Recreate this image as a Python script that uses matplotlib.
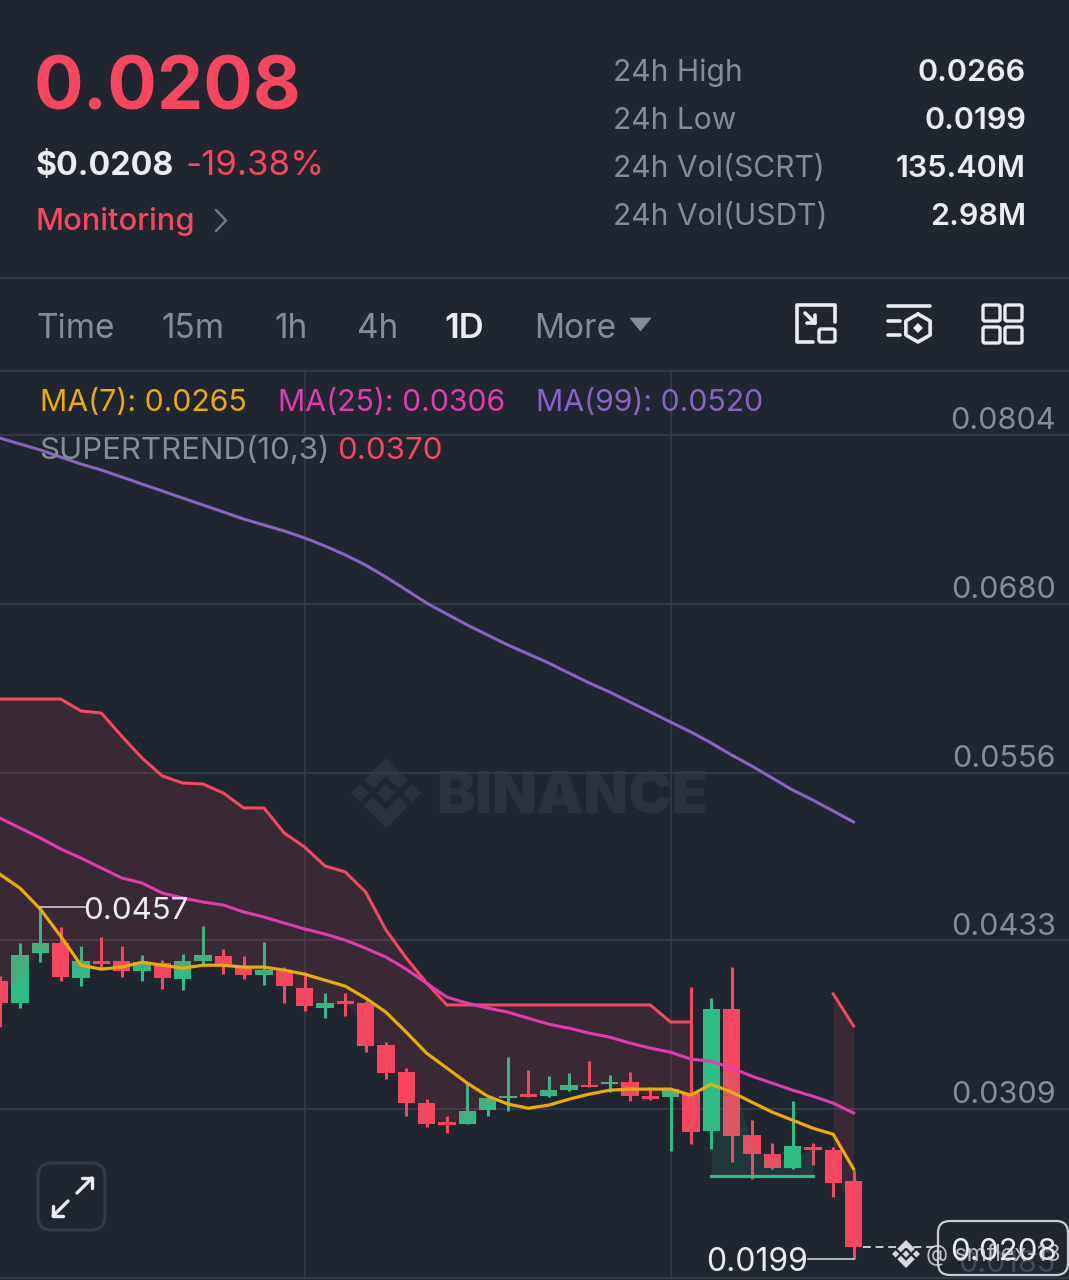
#!/usr/bin/env python3
"""SCRT/USDT daily chart screen: candles, MAs and supertrend."""

import numpy as np
import matplotlib
matplotlib.use('Agg')
import matplotlib.pyplot as plt
from matplotlib.patches import FancyBboxPatch, Polygon

plt.rcParams['font.family'] = ['Inter', 'DejaVu Sans']

BG = '#1f2630'
GRID = '#333a47'
GREY = '#858d9a'
WHITE = '#eaecef'
RED = '#f8465f'
GREEN = '#2ebd85'
GOLD = '#eaac0b'
PINK = '#e53bb0'
PURPLE = '#8b62c6'

# candles, first one sits on the left edge of the screen
opens = [.04031, .03872, .04235, .04306, .04053, .04174, .04174, .04105, .04161, .04044,
         .04174, .0421, .04137, .04073, .04105, .0398, .03833, .03882, .0387, .03559,
         .03361, .03131, .02991, .02981, .03079, .0317, .03197, .03189, .03228, .03267,
         .0327, .03287, .03187, .03179, .03204, .02927, .03828, .02898, .02758, .02658,
         .02808, .02788, .02558]
closes = [.03872, .04222, .04306, .0406, .04174, .04152, .04105, .04168, .04053, .04174,
          .04222, .04137, .04073, .0411, .03992, .03843, .03872, .03862, .03554, .03351,
          .03131, .02979, .02969, .03076, .0317, .03189, .03179, .03228, .03267, .0325,
          .03289, .03189, .03167, .03236, .0292, .03821, .02888, .02758, .02656, .02817,
          .02786, .02548, .0208]
highs = [.04068, .04306, .0457, .04423, .04284, .0435, .04284, .04224, .04183, .04225,
         .04431, .04262, .0421, .0432, .0413, .04093, .03941, .03941, .03882, .03579,
         .03388, .03167, .03035, .03272, .03167, .03469, .0338, .03331, .03351, .03439,
         .03339, .03361, .03248, .03236, .03983, .03902, .0413, .03006, .02837, .03148,
         .02837, .02808, .02643]
lows = [.03693, .03833, .04166, .04031, .0399, .04117, .0406, .04031, .03972, .03961,
        .04154, .04083, .04044, .04002, .0387, .03811, .03759, .03772, .0351, .03309,
        .0304, .02957, .0291, .02981, .0304, .03076, .03179, .03179, .03219, .0325,
        .03212, .03148, .03157, .02778, .0283, .02797, .02697, .02575, .02648, .02648,
        .02678, .02445, .0199]
first_index = -1

ma7 = [.04815, .04712, .04558, .04359, .04146, .04117, .04132, .04168, .04146, .04124,
       .04146, .04146, .04132, .04132, .0411, .0408, .04036, .03992, .03904, .03801,
       .03654, .035, .0339, .0328, .03184, .03126, .03096, .03118, .03162, .03199,
       .03228, .03236, .03236, .03236, .03192, .03272, .03214, .0314, .03067, .03008,
       .02949, .02905, .0265]
ma25 = [.05227, .05154, .0508, .05, .04933, .0486, .04787, .0475, .04676, .0464,
        .0461, .04588, .04537, .045, .04456, .04412, .04375, .0433, .04271, .04205,
        .04117, .04014, .03911, .03867, .03831, .03801, .03757, .03713, .03684, .03647,
        .03618, .03574, .03537, .03507, .03456, .03441, .0339, .03331, .0328, .03228,
        .03184, .03133, .0306]
ma99 = [.08018, .07974, .0793, .07878, .07827, .07783, .07732, .0768, .07629, .07577,
        .07526, .07475, .07423, .07379, .07335, .07284, .07225, .07159, .07085, .06997,
        .06902, .06806, .06725, .06645, .06571, .06498, .06432, .06366, .06292, .06219,
        .06153, .06079, .06006, .05932, .05859, .05778, .0569, .05609, .05521, .05433,
        .05359, .05279, .05198]

# supertrend legs: bearish run, bullish run, bearish run
st_a = [.06101, .06101, .06101, .06101, .06013, .05998, .05829, .05668, .05536, .05484,
        .05477, .05411, .05301, .05301, .05117, .05014, .04875, .04831, .04684, .04405,
        .04199, .04015, .03854, .03854, .03854, .03854, .03854, .03854, .03854, .03854,
        .03854, .03854, .03854, .03729, .03729]
st_b = [.02598, .02598, .02598, .02598, .02598, .02598]
st_c = [.03935, .0370]

price_ticks = [0.0804, 0.0680, 0.0556, 0.0433, 0.0309, 0.0185]
time_ticks = [14, 32]
last_price = 0.0208
period_high = 0.0457
period_low = 0.0199

tabs = ['Time', '15m', '1h', '4h', '1D', 'More']
stat_labels = ['24h High', '24h Low', '24h Vol(SCRT)', '24h Vol(USDT)']
stat_values = ['0.0266', '0.0199', '135.40M', '2.98M']

W, H = 1069, 1280
fig = plt.figure(figsize=(W / 100, H / 100), dpi=100, facecolor=BG)

# chart and overlay both span the whole screen
ax = fig.add_axes([0, 0, 1, 1], facecolor='none')
step = 20.33
ax.set_xlim(-20 / step, (W - 20) / step)
ax.set_ylim(0.01834, 0.11235)
ax.axis('off')

ov = fig.add_axes([0, 0, 1, 1], facecolor='none')
ov.set_xlim(0, W)
ov.set_ylim(H, 0)
ov.axis('off')

idx = np.arange(len(opens)) + first_index
o, c, hi, lo = map(np.array, (opens, closes, highs, lows))
up = c >= o
colors = np.where(up, GREEN, RED)
mid = (o + c) / 2

for p in price_ticks:
    ax.axhline(p, color=GRID, lw=1.5, zorder=1)
for t in time_ticks:
    ax.plot([t, t], [0.0185, 0.0852], color=GRID, lw=1.2, zorder=1)

# watermark sits below the marks
ov.set_zorder(0)
ax.set_zorder(1)

ax.vlines(idx, lo, hi, colors=colors, lw=2.2, zorder=3)
ax.bar(idx, np.abs(c - o), bottom=np.minimum(o, c), width=0.85, color=colors, zorder=3)

ia = idx[:len(st_a)]
ib = idx[len(st_a):len(st_a) + len(st_b)]
ic = idx[-len(st_c):]
ax.fill_between(ia, st_a, mid[:len(st_a)], color=RED, alpha=0.12, lw=0, zorder=4)
ax.fill_between(ib, st_b, mid[len(st_a):len(st_a) + len(st_b)], color=GREEN, alpha=0.12, lw=0, zorder=4)
ax.fill_between(ic, st_c, mid[-len(st_c):], color=RED, alpha=0.12, lw=0, zorder=4)
ax.plot(ia, st_a, color=RED, lw=2.2, zorder=5)
ax.plot(ib, st_b, color=GREEN, lw=2.3, zorder=5)
ax.plot(ic, st_c, color=RED, lw=2.2, zorder=5)

ax.plot(idx, ma99, color=PURPLE, lw=2.2, zorder=5)
ax.plot(idx, ma25, color=PINK, lw=2.2, zorder=5)
ax.plot(idx, ma7, color=GOLD, lw=2.3, zorder=6)

# high / low callouts and last price leader
hi_i = idx[int(np.argmax(hi))]
lo_i = idx[int(np.argmin(lo))]
ax.plot([hi_i, hi_i + 2.2], [period_high, period_high], color='#c9ccd1', lw=1.2, zorder=7)
ax.annotate(f'{period_high:.4f}', (hi_i + 2.1, period_high), xytext=(0, -2.5),
            textcoords='offset points', color=WHITE, fontsize=22.5, va='center', ha='left',
            zorder=8)
ax.plot([lo_i, lo_i - 2.25], [period_low, period_low], color='#c9ccd1', lw=1.2, zorder=7)
ax.annotate(f'{period_low:.4f}', (lo_i - 2.25, period_low), xytext=(0, -2.5),
            textcoords='offset points', color=WHITE, fontsize=23, va='center', ha='right',
            zorder=8)
ax.plot([idx[-1] + 0.45, 45.1], [last_price, last_price], color='#c9ccd1', lw=1.4,
        ls=(0, (4, 2.5)), zorder=7)

# y axis labels sit above their grid line
for p in price_ticks:
    ax.annotate(f'{p:.4f}', (1056 / W, p), xycoords=('axes fraction', 'data'),
                xytext=(0, 9.8), textcoords='offset points', ha='right', va='center',
                color=GREY, fontsize=22, zorder=8, alpha=0.35 if p == price_ticks[-1] else 1)

# everything below is screen furniture drawn in pixels
top = fig.add_axes([0, 0, 1, 1], facecolor='none')
top.set_xlim(0, W)
top.set_ylim(H, 0)
top.axis('off')
top.set_zorder(2)


def txt(x, y, s, color=GREY, size=23, weight='normal', ha='left', target=top, **kw):
    return target.text(x, y + 3, s, color=color, fontsize=size, fontweight=weight,
                       ha=ha, va='center', **kw)


def stroke(xs, ys, color=WHITE, lw=2.6, target=top, **kw):
    target.plot(xs, ys, color=color, lw=lw, solid_capstyle='round',
                solid_joinstyle='round', **kw)


def round_box(x, y, w, h, r, edge=WHITE, lw=2.4, face='none', target=top, **kw):
    target.add_patch(FancyBboxPatch((x + r, y + r), w - 2 * r, h - 2 * r,
                                    boxstyle=f'round,pad={r},rounding_size={r}',
                                    fc=face, ec=edge, lw=lw, **kw))


# header
txt(34, 87, '0.0208', RED, 53, 'bold')
txt(36, 163, '$0.0208', WHITE, 23.2, 'bold')
txt(186, 163, '-19.38%', RED, 25)
txt(36, 218, 'Monitoring', RED, 22.2, 'medium')
stroke([216, 226, 216], [210, 220.5, 231], '#6f7785', 1.8)
for y, label, value in zip([70, 118, 166, 214], stat_labels, stat_values):
    txt(613, y, label, GREY, 21.6)
    txt(1026, y, value, WHITE, 22, 'semibold', ha='right')

top.plot([0, W], [278, 278], color=GRID, lw=1.5)
top.plot([0, W], [371, 371], color=GRID, lw=1.5)

for x, tab in zip([36, 161, 274, 357, 444, 534], tabs):
    active = tab == '1D'
    txt(x, 326, tab, WHITE if active else GREY, 25 if active else 24,
        'semibold' if active else 'normal')
top.add_patch(Polygon([(630, 318), (651, 318), (640.5, 331)], fc=GREY, ec=GREY, lw=0.5))

# toolbar icons
stroke([813, 797, 797, 835, 835], [342, 342, 305, 305, 322])
round_box(819, 329, 16, 13, 2)
stroke([805, 815], [313, 323])
stroke([815, 815, 807], [315, 323, 323])
stroke([888, 930], [306, 306])
stroke([888, 900], [321, 321])
stroke([888, 900], [335, 335])
ang = np.deg2rad(np.arange(-90, 271, 60))
stroke(918 + 14 * np.cos(ang), 328 + 14 * np.sin(ang))
top.add_patch(Polygon([(918, 323), (923, 328), (918, 333), (913, 328)], fc=WHITE, ec='none'))
for bx in (983, 1005):
    for by in (305, 327):
        round_box(bx, by, 17, 16, 2)

# legend
txt(40, 400, 'MA(7): 0.0265', GOLD, 21.8)
txt(278, 400, 'MA(25): 0.0306', PINK, 21.8)
txt(536, 400, 'MA(99): 0.0520', PURPLE, 21.8)
txt(39, 448, 'SUPERTREND(10,3)', GREY, 22.5)
txt(337, 448, '0.0370', RED, 22.5)

# expand button
round_box(38, 1163, 67, 67, 14, edge='#343b48', lw=2.2)
stroke([77, 92], [1193, 1178], lw=2.4)
stroke([82, 92, 92], [1178, 1178, 1188], lw=2.4)
stroke([68, 53], [1201, 1216], lw=2.4)
stroke([53, 53, 63], [1206, 1216, 1216], lw=2.4)

# last price box
round_box(938, 1221, 130, 54, 12, edge='#c9ccd1', lw=1.6)
txt(1004, 1249, '0.0208', WHITE, 22.5, ha='center')


def binance_logo(cx, cy, s, color, target, **kw):
    # s is the half width of the mark in pixels
    u = s / 35.0
    shapes = [
        [(0, -35), (22, -13), (13, -4), (0, -17), (-13, -4), (-22, -13)],
        [(0, 35), (22, 13), (13, 4), (0, 17), (-13, 4), (-22, 13)],
        [(-35, 0), (-26, -9), (-17, 0), (-26, 9)],
        [(35, 0), (26, -9), (17, 0), (26, 9)],
        [(0, -9), (9, 0), (0, 9), (-9, 0)],
    ]
    for pts in shapes:
        target.add_patch(Polygon([(cx + u * a, cy + u * b) for a, b in pts],
                                 fc=color, ec='none', **kw))


# faint chart watermark
binance_logo(386, 793, 35, '#2b323e', ov)
txt(436, 795, 'BINANCE', '#2b323e', 42, 'black', target=ov)

# username overlay
binance_logo(906, 1254, 14, '#d5d7da', top)
txt(926, 1252, '@ smflex-13', '#d5d7da', 16.5, alpha=0.85)

fig.savefig('out.png', dpi=100, facecolor=BG)
plt.close(fig)
